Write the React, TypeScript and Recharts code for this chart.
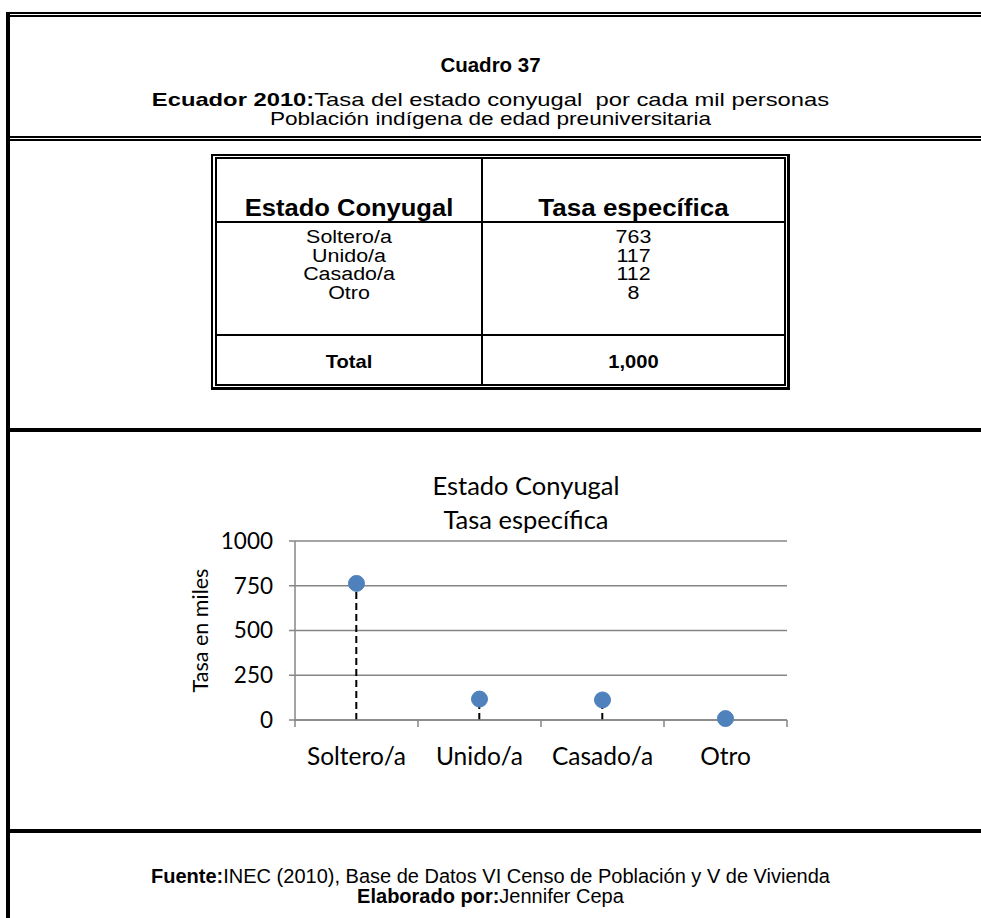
import React from "react";
import {
  ComposedChart,
  Bar,
  Line,
  XAxis,
  YAxis,
  CartesianGrid,
} from "recharts";

// Cuadro 37 - estado conyugal, poblacion indigena preuniversitaria
const categories = ["Soltero/a", "Unido/a", "Casado/a", "Otro"];
const tasas = [763, 117, 112, 8];
const yTicks = [0, 250, 500, 750, 1000];
const totalLabel = "1,000";

const data = categories.map((name, i) => ({ name, value: tasas[i] }));

const ARIAL = '"Liberation Sans", Arial, sans-serif';
const CALIBRI = 'Lato, "Open Sans", sans-serif';
const DOT = "#4F81BD";
const GRID = "#868686";

const hline = (top: number, height: number, left = 10) => (
  <div
    style={{
      position: "absolute",
      top,
      left,
      right: 0,
      height,
      background: "#000",
    }}
  />
);

// the document text looks a bit wider than plain Arial, stretch it
const wide = (k: number): React.CSSProperties => ({
  transform: `scaleX(${k})`,
  transformOrigin: "center",
  whiteSpace: "nowrap",
});

// dashed drop line from the axis up to the point
const DropLine = (props: any) => {
  const { x, y, width, height } = props;
  if (height == null || width == null) return null;
  const cx = x + width / 2;
  return (
    <line
      x1={cx}
      y1={y + height}
      x2={cx}
      y2={y}
      stroke="#000"
      strokeWidth={2}
      strokeDasharray="7 4"
    />
  );
};

// category label in the middle, tick marks on the band edges
const CatTick = (props: any) => {
  const { x, y, payload, index, visibleTicksCount } = props;
  const off = payload?.offset ?? 0;
  const last = index === (visibleTicksCount ?? categories.length) - 1;
  return (
    <g>
      <line x1={x - off} y1={y - 8} x2={x - off} y2={y - 1} stroke={GRID} strokeWidth={1.5} />
      {last && (
        <line x1={x + off} y1={y - 8} x2={x + off} y2={y - 1} stroke={GRID} strokeWidth={1.5} />
      )}
      <text
        x={x}
        y={y + 37}
        textAnchor="middle"
        fill="#000"
        style={{ fontFamily: CALIBRI, fontSize: 24.5 }}
      >
        {payload.value}
      </text>
    </g>
  );
};

export default function App() {
  return (
    <div
      style={{
        position: "absolute",
        top: 0,
        left: 0,
        width: 981,
        height: 918,
        overflow: "hidden",
        background: "#fff",
        fontFamily: ARIAL,
        color: "#000",
      }}
    >
      {/* outer frame */}
      {hline(12, 2, 6)}
      {hline(15, 2, 10)}
      <div style={{ position: "absolute", left: 6, top: 12, width: 4, bottom: 0, background: "#000" }} />
      {hline(136, 2)}
      {hline(139, 2)}
      {hline(428, 4)}
      {hline(829, 4)}

      {/* heading */}
      <div style={{ position: "absolute", top: 54, left: 0, width: 981, textAlign: "center", fontWeight: "bold", fontSize: 20.5, lineHeight: "22px" }}>
        Cuadro 37
      </div>
      <div style={{ position: "absolute", top: 90, left: 0, width: 981, textAlign: "center", fontSize: 19, lineHeight: "20px", ...wide(1.25) }}>
        <b>Ecuador 2010:</b>Tasa del estado conyugal&nbsp; por cada mil personas
      </div>
      <div style={{ position: "absolute", top: 109, left: 0, width: 981, textAlign: "center", fontSize: 19, lineHeight: "20px", ...wide(1.19) }}>
        Población indígena de edad preuniversitaria
      </div>

      {/* table */}
      <div
        style={{
          position: "absolute",
          left: 211,
          top: 154,
          width: 574,
          height: 231,
          borderStyle: "solid",
          borderColor: "#000",
          borderWidth: "2px 3px 3px 2px",
        }}
      />
      <div
        style={{
          position: "absolute",
          left: 215,
          top: 157,
          width: 567,
          height: 225,
          border: "2px solid #000",
        }}
      >
        <div style={{ position: "absolute", left: 264, top: 0, bottom: 0, width: 2, background: "#000" }} />
        <div style={{ position: "absolute", left: 0, right: 0, top: 62, height: 2, background: "#000" }} />
        <div style={{ position: "absolute", left: 0, right: 0, top: 175, height: 2, background: "#000" }} />
        <div style={{ position: "absolute", left: 0, width: 264, top: 36, textAlign: "center", fontWeight: "bold", fontSize: 23, lineHeight: "26px", ...wide(1.11) }}>
          Estado Conyugal
        </div>
        <div style={{ position: "absolute", left: 266, right: 0, top: 36, textAlign: "center", fontWeight: "bold", fontSize: 23, lineHeight: "26px", ...wide(1.13) }}>
          Tasa específica
        </div>
        <div style={{ position: "absolute", left: 0, width: 264, top: 69, textAlign: "center", fontSize: 18, lineHeight: "18.7px", ...wide(1.19) }}>
          {categories.map((c) => (
            <div key={c}>{c}</div>
          ))}
        </div>
        <div style={{ position: "absolute", left: 266, right: 0, top: 69, textAlign: "center", fontSize: 18, lineHeight: "18.7px", ...wide(1.19) }}>
          {tasas.map((v, i) => (
            <div key={i}>{v}</div>
          ))}
        </div>
        <div style={{ position: "absolute", left: 0, width: 264, top: 192, textAlign: "center", fontWeight: "bold", fontSize: 19, ...wide(1.06) }}>
          Total
        </div>
        <div style={{ position: "absolute", left: 266, right: 0, top: 192, textAlign: "center", fontWeight: "bold", fontSize: 19, ...wide(1.06) }}>
          {totalLabel}
        </div>
      </div>

      {/* chart title */}
      <div
        style={{
          position: "absolute",
          top: 468,
          left: 276,
          width: 500,
          textAlign: "center",
          fontFamily: CALIBRI,
          fontSize: 25.5,
          lineHeight: "34px",
        }}
      >
        <div>Estado Conyugal</div>
        <div>Tasa específica</div>
      </div>

      <div style={{ position: "absolute", top: 432, left: 0 }}>
        <ComposedChart
          width={981}
          height={397}
          data={data}
          margin={{ top: 109, right: 194, bottom: 59, left: 175 }}
        >
          <CartesianGrid vertical={false} stroke={GRID} strokeWidth={1.5} />
          <XAxis
            dataKey="name"
            scale="band"
            axisLine={{ stroke: GRID, strokeWidth: 1.5 }}
            tickLine={false}
            tick={<CatTick />}
            height={50}
            interval={0}
          />
          <YAxis
            domain={[0, 1000]}
            ticks={yTicks}
            width={120}
            axisLine={{ stroke: GRID, strokeWidth: 1.5 }}
            tickLine={{ stroke: GRID, strokeWidth: 1.5 }}
            tickSize={6}
            tickMargin={16}
            tick={{ fill: "#000", fontFamily: CALIBRI, fontSize: 22.5 }}
            label={{
              value: "Tasa en miles",
              angle: -90,
              position: "insideLeft",
              offset: 25,
              style: { textAnchor: "middle", fill: "#000", fontFamily: CALIBRI, fontSize: 21.5 },
            }}
          />
          <Bar dataKey="value" shape={<DropLine />} isAnimationActive={false} />
          <Line
            dataKey="value"
            stroke="none"
            dot={{ r: 8, fill: DOT, stroke: DOT, strokeWidth: 1 }}
            activeDot={false}
            isAnimationActive={false}
          />
        </ComposedChart>
      </div>

      {/* footer */}
      <div style={{ position: "absolute", top: 866, left: 0, width: 981, textAlign: "center", fontSize: 20, lineHeight: "20px" }}>
        <div>
          <b>Fuente:</b>INEC (2010), Base de Datos VI Censo de Población y V de Vivienda
        </div>
        <div>
          <b>Elaborado por:</b>Jennifer Cepa
        </div>
      </div>
    </div>
  );
}
